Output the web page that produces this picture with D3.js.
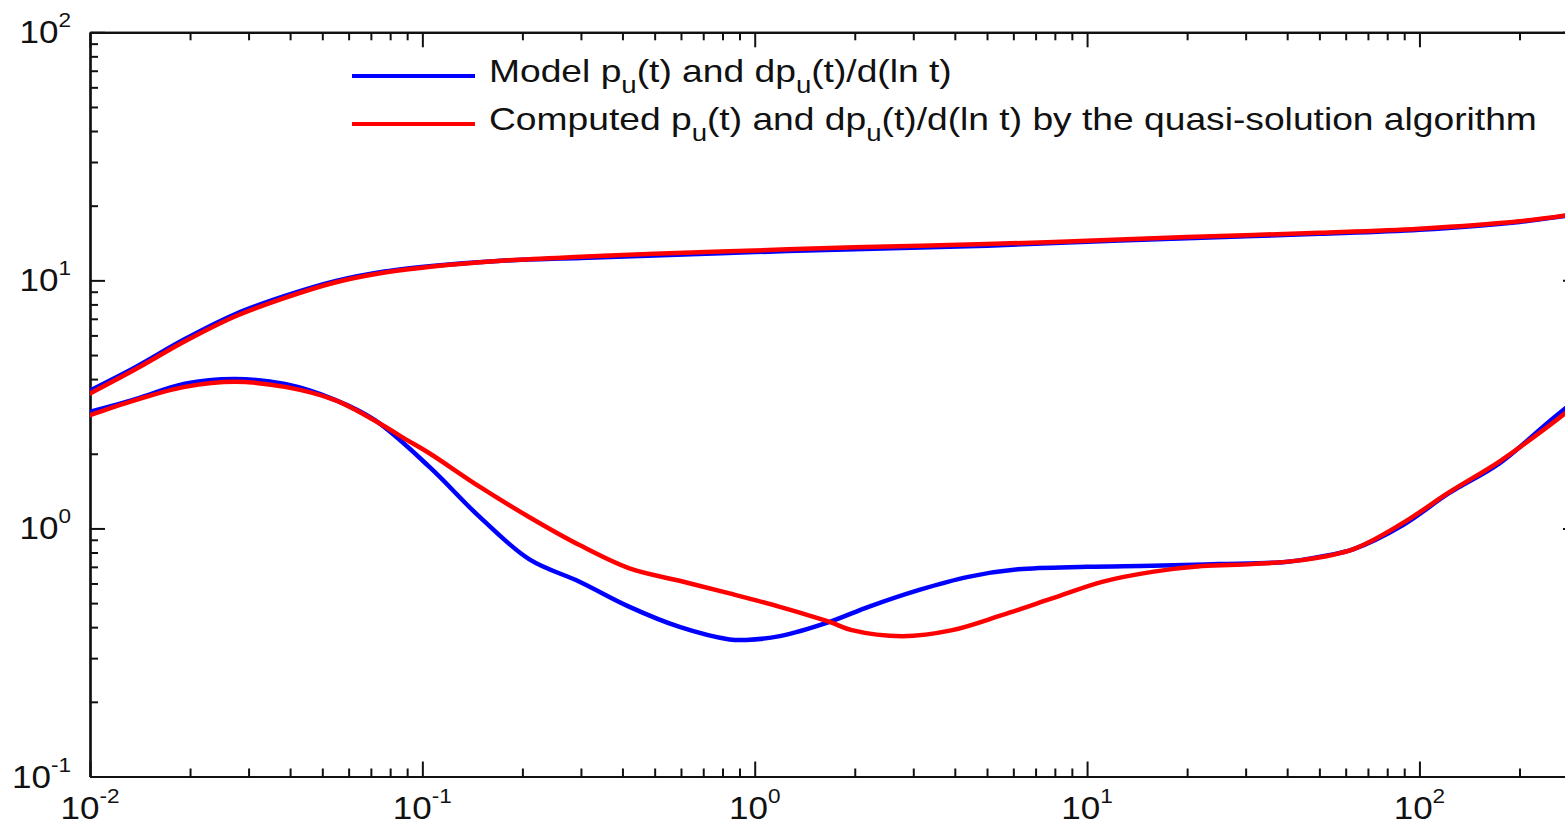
<!DOCTYPE html>
<html>
<head>
<meta charset="utf-8">
<script src="https://cdn.jsdelivr.net/npm/d3@7"></script>
<style>
  html, body { margin: 0; padding: 0; background: #fff; overflow: hidden; }
  svg { display: block; font-family: "Liberation Sans", Arial, sans-serif; }
</style>
</head>
<body>
<svg id="chart" width="1565" height="826"></svg>
<script>
// Time samples and values (log-log well test plot)
const tModelP = [0.01, 0.0137, 0.0193, 0.0273, 0.0386, 0.0546, 0.077, 0.109, 0.173, 0.3, 0.5, 1, 2, 5, 10, 20, 50, 100, 200, 300];
const pModel  = [3.6, 4.47, 5.8, 7.3, 8.65, 9.92, 10.85, 11.45, 12.0, 12.3, 12.6, 13.0, 13.35, 13.8, 14.3, 14.8, 15.4, 16.0, 17.2, 18.5];

const tCompP  = [0.01, 0.0137, 0.0193, 0.0273, 0.0386, 0.0546, 0.077, 0.109, 0.173, 0.3, 0.5, 1, 2, 5, 10, 20, 50, 100, 200, 300];
const pComp   = [3.5, 4.38, 5.68, 7.15, 8.5, 9.8, 10.75, 11.4, 12.0, 12.45, 12.8, 13.2, 13.6, 14.0, 14.45, 14.95, 15.55, 16.15, 17.3, 18.6];

const tModelD = [0.01, 0.0137, 0.0193, 0.0273, 0.0386, 0.0546, 0.072, 0.105, 0.149, 0.21, 0.297, 0.42, 0.594, 0.84, 0.943, 1.19, 1.68, 2.2, 3.11, 4.39, 6.2, 10, 15.7, 24.9, 39.6, 49.9, 63.4, 89, 123, 174, 246, 300];
const dModel  = [2.95, 3.32, 3.83, 4.0, 3.82, 3.3, 2.73, 1.77, 1.11, 0.75, 0.61, 0.483, 0.401, 0.357, 0.355, 0.368, 0.42, 0.483, 0.564, 0.638, 0.684, 0.70, 0.707, 0.718, 0.733, 0.768, 0.826, 1.03, 1.39, 1.83, 2.7, 3.35];

const tCompD  = [0.01, 0.0137, 0.0193, 0.0273, 0.0386, 0.0546, 0.0744, 0.09, 0.105, 0.149, 0.21, 0.297, 0.42, 0.594, 0.84, 1.19, 1.68, 1.96, 2.78, 3.93, 5.54, 7.85, 11.1, 15.7, 22.2, 31.4, 44.3, 63.4, 89, 123, 174, 246, 300];
const dComp   = [2.86, 3.29, 3.72, 3.9, 3.72, 3.29, 2.65, 2.27, 2.01, 1.47, 1.11, 0.857, 0.69, 0.615, 0.547, 0.483, 0.42, 0.389, 0.368, 0.389, 0.447, 0.522, 0.609, 0.668, 0.705, 0.718, 0.745, 0.826, 1.05, 1.40, 1.86, 2.6, 3.2];

// Decade exponents labelled on each axis
const xTickExps = [-2, -1, 0, 1, 2];
const yTickExps = [-1, 0, 1, 2];

const legendItems = [
  { color: "#0000ff", parts: ["Model p", "u", "(t) and dp", "u", "(t)/d(ln t)"] },
  { color: "#ff0000", parts: ["Computed p", "u", "(t) and dp", "u", "(t)/d(ln t) by the quasi-solution algorithm"] }
];

const svg = d3.select("#chart");
const L = 90, T = 32.3, R = 1578, B = 776.5;

const x = d3.scaleLog().domain([0.01, 300]).range([L, R]);
const y = d3.scaleLog().domain([0.1, 100]).range([B, T]);

const isMajor = v => Math.abs(Math.log10(v) - Math.round(Math.log10(v))) < 1e-9;
const xTicks = x.ticks().filter(v => v >= 0.01 && v <= 300);
const yTicks = y.ticks().filter(v => v >= 0.1 && v <= 100);
const xMajor = xTicks.filter(isMajor), xMinor = xTicks.filter(v => !isMajor(v));
const yMajor = yTicks.filter(isMajor), yMinor = yTicks.filter(v => !isMajor(v));

const axisStyle = g => {
  g.select(".domain").attr("stroke", "#111").attr("stroke-width", 2.2);
  g.selectAll(".tick line").attr("stroke", "#111").attr("stroke-width", 2);
  g.selectAll(".tick text").remove();
};

// Frame axes with inward-pointing ticks on all four sides
const mk = (axisFn, scale, vals, size, tx, ty) => {
  svg.append("g").attr("transform", `translate(${tx},${ty})`)
    .call(axisFn(scale).tickValues(vals).tickSize(size).tickSizeOuter(0).tickFormat(""))
    .call(axisStyle);
};
mk(d3.axisBottom, x, xMajor, -15, 0, B);
mk(d3.axisBottom, x, xMinor, -8, 0, B);
mk(d3.axisTop, x, xMajor, -15, 0, T);
mk(d3.axisTop, x, xMinor, -8, 0, T);
mk(d3.axisLeft, y, yMajor, -15, L, 0);
mk(d3.axisLeft, y, yMinor, -8, L, 0);
mk(d3.axisRight, y, yMajor, -15, R, 0);
mk(d3.axisRight, y, yMinor, -8, R, 0);

// Power-of-ten tick labels
function powerLabel(g, exp, anchor) {
  const t = g.append("text").attr("text-anchor", anchor).attr("font-size", 31).attr("fill", "#111");
  t.append("tspan").text("10");
  t.append("tspan").attr("dy", -16).attr("font-size", 20).text(String(exp));
}
xTickExps.forEach(e => {
  const g = svg.append("g").attr("transform", `translate(${x(Math.pow(10, e))},819) scale(1.13,1)`);
  powerLabel(g, e, "middle");
});
yTickExps.forEach(e => {
  const g = svg.append("g").attr("transform", `translate(71,${y(Math.pow(10, e)) + 11}) scale(1.13,1)`);
  powerLabel(g, e, "end");
});

// Curves
const line = d3.line().x(d => x(d[0])).y(d => y(d[1])).curve(d3.curveCatmullRom.alpha(0.5));
const zip = (a, b) => a.map((v, i) => [v, b[i]]);
const clip = svg.append("clipPath").attr("id", "plotclip");
clip.append("rect").attr("x", L).attr("y", T).attr("width", R - L).attr("height", B - T);
const plot = svg.append("g").attr("clip-path", "url(#plotclip)");

[[tModelP, pModel, "#0000ff"], [tModelD, dModel, "#0000ff"],
 [tCompP, pComp, "#ff0000"], [tCompD, dComp, "#ff0000"]].forEach(([t, v, c]) => {
  plot.append("path").attr("d", line(zip(t, v)))
    .attr("fill", "none").attr("stroke", c).attr("stroke-width", 4.5)
    .attr("stroke-linejoin", "round").attr("stroke-linecap", "round");
});

// Legend
legendItems.forEach((item, i) => {
  const yy = 76 + i * 48;
  svg.append("line").attr("x1", 352).attr("x2", 475).attr("y1", yy).attr("y2", yy)
    .attr("stroke", item.color).attr("stroke-width", 3.8);
  const g = svg.append("g").attr("transform", `translate(489,${yy + 6}) scale(1.2,1)`);
  const t = g.append("text").attr("font-size", 31).attr("fill", "#111");
  item.parts.forEach((p, k) => {
    const sub = k % 2 === 1;
    t.append("tspan")
      .attr("dy", k === 0 ? 0 : (sub ? 11 : -11))
      .attr("font-size", sub ? 23 : 31)
      .text(p);
  });
});
</script>
</body>
</html>
